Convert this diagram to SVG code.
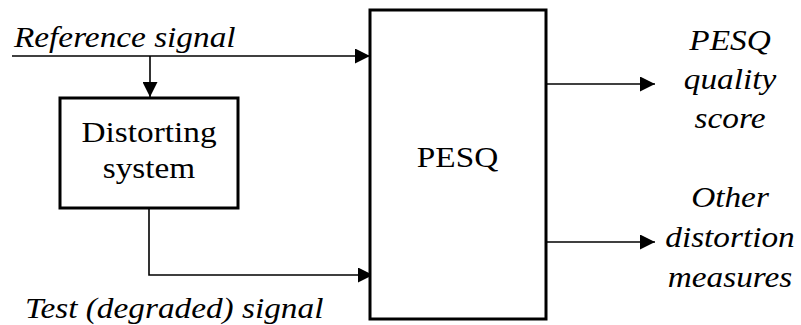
<svg xmlns="http://www.w3.org/2000/svg" width="801" height="325" viewBox="0 0 801 325">
<defs>
<marker id="ah" viewBox="0 0 10 10" refX="10" refY="5" markerWidth="15" markerHeight="15" markerUnits="userSpaceOnUse" orient="auto">
<path d="M0,0 L10,5 L0,10 Z" fill="#000"/>
</marker>
</defs>
<g id="connectors" fill="none" stroke="#000" stroke-width="1.6">
<path d="M12,56 H370" marker-end="url(#ah)"/>
<path d="M150,56 V97" marker-end="url(#ah)"/>
<path d="M149,208 V275 H373" marker-end="url(#ah)"/>
<path d="M546,84 H655" marker-end="url(#ah)"/>
<path d="M546,242 H655" marker-end="url(#ah)"/>
</g>
<g id="reference-label">
<text style="font-family:'Liberation Serif',serif" font-family="Liberation Serif" font-size="30" font-style="italic" transform="translate(14,47) scale(1.11,1)">Reference signal</text>
</g>
<g id="distorting-system">
<rect x="60" y="98" width="178" height="110" fill="#fff" stroke="#000" stroke-width="3"/>
<text style="font-family:'Liberation Serif',serif" font-family="Liberation Serif" font-size="30" text-anchor="middle" transform="translate(149,142) scale(1.11,1)">Distorting</text>
<text style="font-family:'Liberation Serif',serif" font-family="Liberation Serif" font-size="30" text-anchor="middle" transform="translate(149,178) scale(1.11,1)">system</text>
</g>
<g id="pesq">
<rect x="370" y="10" width="176" height="309" fill="#fff" stroke="#000" stroke-width="3"/>
<text style="font-family:'Liberation Serif',serif" font-family="Liberation Serif" font-size="30" text-anchor="middle" transform="translate(457.5,167) scale(1.11,1)">PESQ</text>
</g>
<g id="test-label">
<text style="font-family:'Liberation Serif',serif" font-family="Liberation Serif" font-size="30" font-style="italic" transform="translate(25,318) scale(1.11,1)">Test (degraded) signal</text>
</g>
<g id="quality-output">
<text style="font-family:'Liberation Serif',serif" font-family="Liberation Serif" font-size="30" font-style="italic" text-anchor="middle" transform="translate(730,50) scale(1.11,1)">PESQ</text>
<text style="font-family:'Liberation Serif',serif" font-family="Liberation Serif" font-size="30" font-style="italic" text-anchor="middle" transform="translate(730,89) scale(1.11,1)">quality</text>
<text style="font-family:'Liberation Serif',serif" font-family="Liberation Serif" font-size="30" font-style="italic" text-anchor="middle" transform="translate(730,128) scale(1.11,1)">score</text>
</g>
<g id="other-output">
<text style="font-family:'Liberation Serif',serif" font-family="Liberation Serif" font-size="30" font-style="italic" text-anchor="middle" transform="translate(730,207) scale(1.11,1)">Other</text>
<text style="font-family:'Liberation Serif',serif" font-family="Liberation Serif" font-size="30" font-style="italic" text-anchor="middle" transform="translate(730,247) scale(1.11,1)">distortion</text>
<text style="font-family:'Liberation Serif',serif" font-family="Liberation Serif" font-size="30" font-style="italic" text-anchor="middle" transform="translate(730,287) scale(1.11,1)">measures</text>
</g>
</svg>
